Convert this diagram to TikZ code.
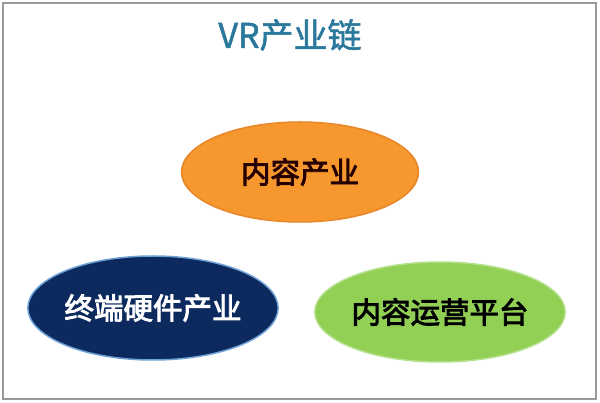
\documentclass[tikz,border=0pt]{standalone}
\usepackage{fontspec}
\setmainfont{Noto Sans CJK SC}
\newfontfamily\ovalfont[FakeBold=3]{Noto Sans CJK SC}
\newfontfamily\titlefont[FakeBold=1.5]{Noto Sans CJK SC}
\usetikzlibrary{positioning,shapes.geometric}
\definecolor{titleblue}{HTML}{2A789C}
\definecolor{orangefill}{HTML}{F7982F}
\definecolor{orangeline}{HTML}{E8862A}
\definecolor{navyfill}{HTML}{0D2A5F}
\definecolor{navyline}{HTML}{6FA3D8}
\definecolor{greenfill}{HTML}{92CF55}
\definecolor{greenline}{HTML}{B5E08A}
\tikzset{
  oval/.style={
    ellipse,
    inner sep=0pt,
    line width=1.5pt,
    minimum width=237pt,
    minimum height=100pt,
    font=\ovalfont\fontsize{29.5}{32}\selectfont},
  frame/.style={draw=black!40,line width=1.2pt},
}

\begin{document}
\begin{tikzpicture}[x=1pt,y=-1pt]
  \useasboundingbox (0,0) rectangle (600,403);
  \draw[frame] (3,3) rectangle (596,399);
  \node[text=titleblue,font=\titlefont\fontsize{34}{37}\selectfont](title) at (290,35) {VR产业链};
  \node[oval,fill=orangefill,draw=orangeline,text=black!85!red](content) at (300,172) {内容产业};
  \node[oval,fill=navyfill,draw=navyline,text=white,minimum width=240pt,minimum height=104pt](hardware) at (153,308) {终端硬件产业};
  \node[oval,fill=greenfill,draw=greenline,text=black](platform) at (440,312) {内容运营平台};
\end{tikzpicture}
\end{document}
